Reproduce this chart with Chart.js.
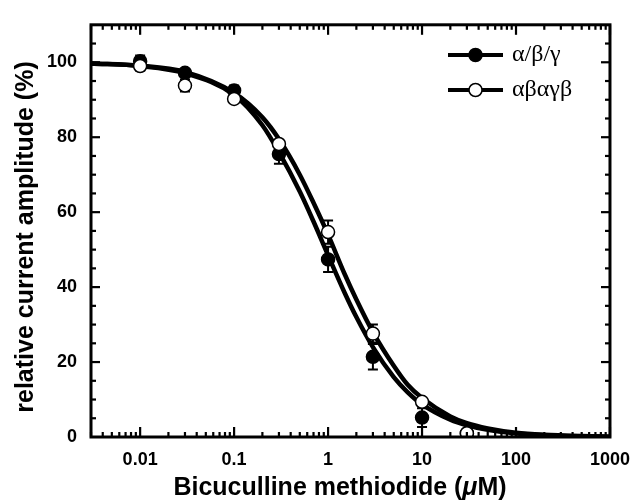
<!DOCTYPE html>
<html><head><meta charset="utf-8">
<script src="https://cdn.jsdelivr.net/npm/chart.js@4"></script>
<style>html,body{margin:0;padding:0;background:#fff}canvas{display:block}</style>
</head><body>
<canvas id="c" width="642" height="500"></canvas>
<script>
// ---- data ----
const concentrations = [0.01, 0.03, 0.1, 0.3, 1, 3, 10, 30];
const filledMean = [100.3, 97.2, 92.5, 75.5, 47.4, 21.4, 5.2, 1.0];
const filledErr  = [1.5, 1.0, 1.3, 2.6, 3.4, 3.4, 2.5, 0];
const openMean   = [99.0, 93.8, 90.2, 78.2, 54.7, 27.6, 9.4, 1.0];
const openErr    = [1.2, 1.6, 1.0, 1.0, 3.1, 2.4, 1.0, 0.5];

const curveX     = [0.003, 0.01, 0.03, 0.1, 0.2, 0.3, 0.5, 0.7, 1, 1.5, 2, 3, 5, 7, 10, 20, 30, 50, 100, 200, 500, 1000];
const fitFilled  = [99.7, 99.0, 97.1, 91.3, 83.2, 76.0, 65.5, 57.5, 48.5, 38.5, 32.0, 24.0, 16.0, 12.0, 8.7, 4.6, 3.1, 1.9, 0.95, 0.5, 0.2, 0.1];
const fitOpen    = [99.7, 99.1, 97.4, 91.8, 85.3, 79.5, 70.0, 62.5, 54.0, 43.5, 36.7, 28.0, 19.0, 14.0, 10.4, 5.5, 3.7, 2.3, 1.15, 0.6, 0.25, 0.1];

const xTickValues = [0.01, 0.1, 1, 10, 100, 1000];
const xTickLabels = ['0.01', '0.1', '1', '10', '100', '1000'];
const yTickValues = [0, 20, 40, 60, 80, 100];
const seriesNames = ['α/β/γ', 'αβαγβ'];
const xTitle = ['Bicuculline methiodide (', 'μ', 'M)'];
const yTitle = 'relative current amplitude (%)';

const pts = (xs, ys) => xs.map((x, i) => ({x, y: ys[i]}));
const SANS = "'Liberation Sans', Arial, Helvetica, sans-serif";
const SERIF = "'Liberation Serif', 'Times New Roman', serif";

const errorBars = {
  id: 'errorBars',
  beforeDatasetDraw(chart, args) {
    const ds = chart.data.datasets[args.index];
    if (!ds.errors) return;
    const {ctx, scales: {x, y}} = chart;
    ctx.save();
    ctx.strokeStyle = '#000';
    ctx.lineWidth = 2;
    ds.data.forEach((p, i) => {
      const e = ds.errors[i];
      if (!e) return;
      const px = x.getPixelForValue(p.x);
      const y1 = y.getPixelForValue(p.y + e), y2 = y.getPixelForValue(p.y - e);
      ctx.beginPath();
      ctx.moveTo(px, y1); ctx.lineTo(px, y2);
      ctx.moveTo(px - 5, y1); ctx.lineTo(px + 5, y1);
      ctx.moveTo(px - 5, y2); ctx.lineTo(px + 5, y2);
      ctx.stroke();
    });
    ctx.restore();
  }
};

const frame = {
  id: 'frame',
  afterDatasetsDraw(chart) {
    const {ctx, chartArea: a, scales: {x, y}} = chart;
    ctx.save();
    ctx.strokeStyle = '#000';
    ctx.lineWidth = 3;
    ctx.strokeRect(a.left, a.top, a.right - a.left, a.bottom - a.top);
    ctx.lineWidth = 2.2;
    const seg = (x1, y1, x2, y2) => { ctx.beginPath(); ctx.moveTo(x1, y1); ctx.lineTo(x2, y2); ctx.stroke(); };
    for (let v = 5; v < y.max; v += 5) {
      const py = y.getPixelForValue(v);
      const len = v % 20 === 0 ? 9 : 5;
      seg(a.left, py, a.left + len, py);
      seg(a.right, py, a.right - len, py);
    }
    for (let e = -3; e <= 3; e++) {
      for (let m = 1; m <= 9; m++) {
        const v = m * Math.pow(10, e);
        if (v < x.min * 0.999 || v > x.max * 1.001) continue;
        const px = x.getPixelForValue(v);
        const len = m === 1 ? 10 : 5;
        seg(px, a.bottom, px, a.bottom - len);
        seg(px, a.top, px, a.top + len);
      }
    }
    ctx.restore();
  },
  afterDraw(chart) {
    const {ctx} = chart;
    ctx.save();
    ctx.fillStyle = '#000';
    // x title with italic mu
    const fB = 'bold 25px ' + SANS, fI = 'italic bold 25px ' + SANS;
    ctx.font = fB; const w0 = ctx.measureText(xTitle[0]).width, w2 = ctx.measureText(xTitle[2]).width;
    ctx.font = fI; const w1 = ctx.measureText(xTitle[1]).width;
    let sx = 340 - (w0 + w1 + w2) / 2;
    ctx.textBaseline = 'alphabetic'; ctx.textAlign = 'left';
    ctx.font = fB; ctx.fillText(xTitle[0], sx, 495);
    ctx.font = fI; ctx.fillText(xTitle[1], sx + w0, 495);
    ctx.font = fB; ctx.fillText(xTitle[2], sx + w0 + w1, 495);
    // y title
    ctx.translate(33, 237);
    ctx.rotate(-Math.PI / 2);
    ctx.font = 'bold 25px ' + SANS;
    ctx.textAlign = 'center';
    ctx.fillText(yTitle, 0, 0);
    ctx.restore();
    // legend
    ctx.save();
    const rows = [55, 90];
    const ptsDs = [chart.data.datasets[1], chart.data.datasets[0]];
    rows.forEach((ry, i) => {
      ctx.strokeStyle = '#000'; ctx.lineWidth = 4;
      ctx.beginPath(); ctx.moveTo(448, ry); ctx.lineTo(503, ry); ctx.stroke();
      ctx.beginPath(); ctx.arc(475.5, ry, 6.5, 0, Math.PI * 2);
      ctx.fillStyle = ptsDs[i].pointBackgroundColor; ctx.fill();
      ctx.lineWidth = 1.5; ctx.stroke();
      ctx.fillStyle = '#000';
      ctx.font = '24px ' + SERIF;
      ctx.textBaseline = 'middle'; ctx.textAlign = 'left';
      ctx.fillText(seriesNames[i], 512, ry);
    });
    ctx.restore();
  }
};

new Chart(document.getElementById('c'), {
  type: 'scatter',
  data: {
    datasets: [
      { label: seriesNames[1], data: pts(concentrations, openMean), errors: openErr, showLine: false,
        pointRadius: 6.5, pointBackgroundColor: '#fff', pointBorderColor: '#000', pointBorderWidth: 1.5, order: 0 },
      { label: seriesNames[0], data: pts(concentrations, filledMean), errors: filledErr, showLine: false,
        pointRadius: 6.5, pointBackgroundColor: '#000', pointBorderColor: '#000', pointBorderWidth: 1.5, order: 1 },
      { label: seriesNames[1] + ' fit', data: pts(curveX, fitOpen), showLine: true, pointRadius: 0,
        borderColor: '#000', borderWidth: 4.5, cubicInterpolationMode: 'monotone', order: 2 },
      { label: seriesNames[0] + ' fit', data: pts(curveX, fitFilled), showLine: true, pointRadius: 0,
        borderColor: '#000', borderWidth: 4.5, cubicInterpolationMode: 'monotone', order: 3 }
    ]
  },
  options: {
    responsive: false,
    animation: false,
    events: [],
    layout: { padding: { top: 15, right: 24, left: 0, bottom: 0 } },
    plugins: { legend: { display: false }, tooltip: { enabled: false } },
    scales: {
      x: {
        type: 'logarithmic', min: 0.003, max: 1000,
        grid: { display: false, drawTicks: false }, border: { display: false },
        afterBuildTicks: s => { s.ticks = xTickValues.map(v => ({value: v})); },
        afterFit: s => { s.height = 63; },
        ticks: { color: '#000', font: { family: SANS, size: 18, weight: 'bold' }, padding: 12,
          maxRotation: 0, autoSkip: false,
          callback: (v) => { const i = xTickValues.findIndex(t => Math.abs(t - v) / t < 1e-6); return i >= 0 ? xTickLabels[i] : ''; } }
      },
      y: {
        min: 0, max: 110,
        grid: { display: false, drawTicks: false }, border: { display: false },
        afterBuildTicks: s => { s.ticks = yTickValues.map(v => ({value: v})); },
        afterFit: s => { s.width = 91; },
        ticks: { color: '#000', font: { family: SANS, size: 18, weight: 'bold' }, padding: 14 }
      }
    }
  },
  plugins: [errorBars, frame]
});
</script>
</body></html>
